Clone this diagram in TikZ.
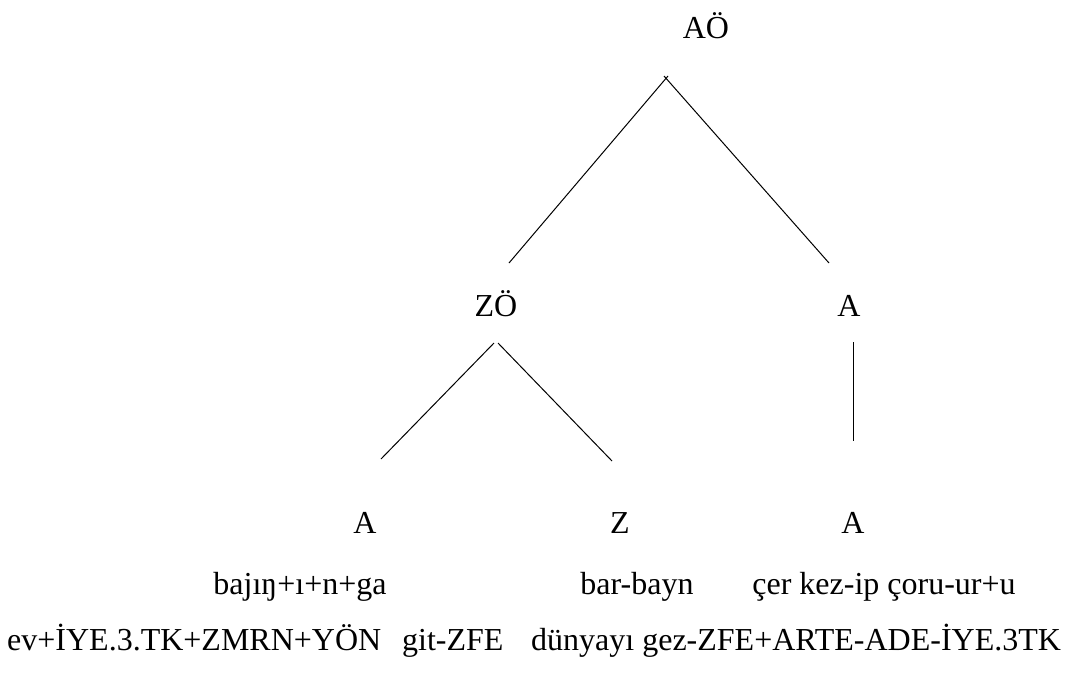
\documentclass[tikz,border=0pt]{standalone}
\usepackage{fontspec}
\setmainfont{Liberation Serif}
\begin{document}
\begin{tikzpicture}[x=1pt,y=-1pt,
  lbl/.style={inner sep=0pt, anchor=base, font=\fontsize{32}{38}\selectfont},
  lblw/.style={lbl, anchor=base west},
  edge/.style={draw=black, line width=1pt}]
\useasboundingbox[fill=white] (0,0) rectangle (1072,675);
% labels
\node[lbl] (ao) at (706,38) {AÖ};
\node[lbl] (zo) at (496,316) {ZÖ};
\node[lbl] (a1) at (849,316) {A};
\node[lbl] (a2) at (365,533) {A};
\node[lbl] (z) at (620,533) {Z};
\node[lbl] (a3) at (853,533) {A};
\node[lbl] (w1) at (300,594) {bajıŋ+ı+n+ga};
\node[lbl] (w2) at (637,594) {bar-bayn};
\node[lbl] (w3) at (884,594) {çer kez-ip çoru-ur+u};
\node[lblw] (g1) at (7,650) {ev+İYE.3.TK+ZMRN+YÖN};
\node[lblw] (g2) at (402,650) {git-ZFE};
\node[lblw] (g3) at (531,650) {dünyayı gez-ZFE+ARTE-ADE-İYE.3TK};
% edge end points
\coordinate (r0l) at (668,76);
\coordinate (r0r) at (664,76);
\coordinate (r1) at (509,263);
\coordinate (r2) at (829,263);
\coordinate (z0l) at (494,343);
\coordinate (z0r) at (498,343);
\coordinate (z1) at (381,459);
\coordinate (z2) at (612,461);
\coordinate (v0) at (853,342);
\coordinate (v1) at (853,441);
\draw[edge] (r0l) -- (r1);
\draw[edge] (r0r) -- (r2);
\draw[edge] (z0l) -- (z1);
\draw[edge] (z0r) -- (z2);
\draw[edge] (v0) -- (v1);
\end{tikzpicture}
\end{document}
